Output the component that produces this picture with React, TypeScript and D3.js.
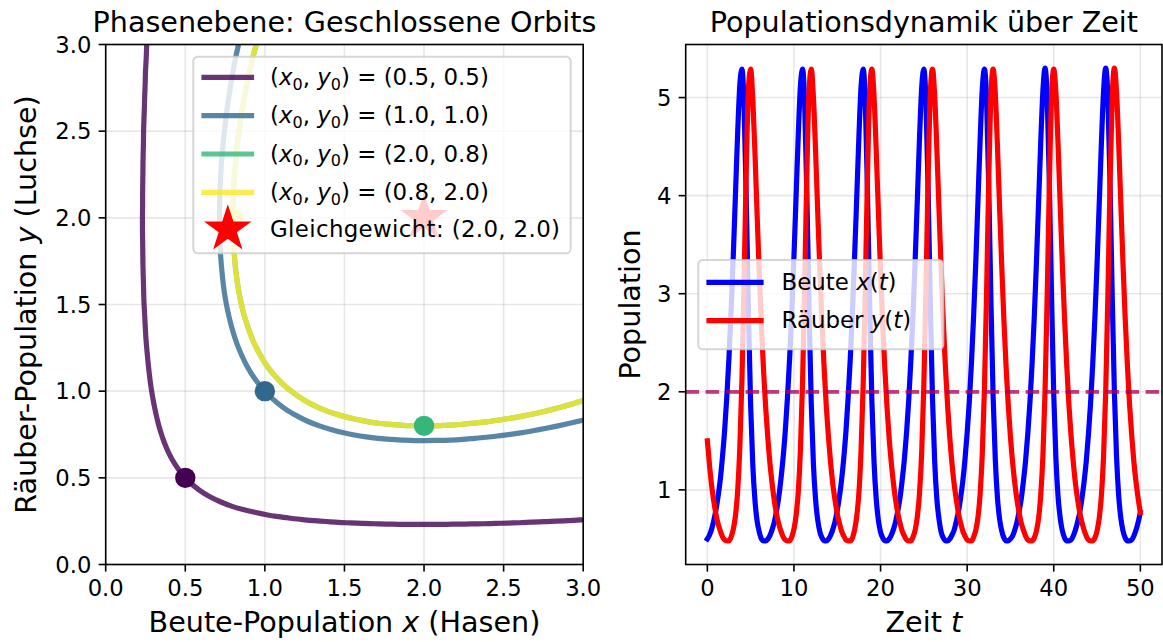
import React from 'react';
import * as d3 from 'd3';

// ---------- data ----------
const T_STEP = 0.25; // sampling step of the time series (t = 0 … 50)

const PREY = [
  0.50, 0.54, 0.60, 0.69, 0.80, 0.94, 1.11, 1.34, 1.61, 1.95,
  2.35, 2.84, 3.40, 4.02, 4.64, 5.13, 5.29, 4.88, 3.93, 2.79,
  1.86, 1.25, 0.89, 0.68, 0.57, 0.50, 0.48, 0.48, 0.50, 0.54,
  0.60,
  0.68, 0.79, 0.93, 1.11, 1.33, 1.60, 1.94, 2.34, 2.82, 3.38,
  4.00, 4.62, 5.12, 5.29, 4.90, 3.96, 2.82, 1.88, 1.26, 0.90,
  0.69, 0.57, 0.51, 0.48, 0.48, 0.50, 0.54, 0.60, 0.68, 0.79,
  0.93, 1.10,
  1.32, 1.59, 1.93, 2.33, 2.81, 3.37, 3.98, 4.60, 5.11, 5.29,
  4.92, 3.99, 2.85, 1.90, 1.28, 0.91, 0.69, 0.57, 0.51, 0.48,
  0.48, 0.50, 0.54, 0.60, 0.68, 0.79, 0.92, 1.10, 1.31, 1.58,
  1.91,
  2.32, 2.79, 3.35, 3.96, 4.59, 5.10, 5.29, 4.94, 4.02, 2.88,
  1.93, 1.29, 0.91, 0.70, 0.57, 0.51, 0.48, 0.48, 0.50, 0.54,
  0.59, 0.68, 0.78, 0.92, 1.09, 1.31, 1.58, 1.90, 2.30, 2.78,
  3.33, 3.95,
  4.57, 5.09, 5.29, 4.96, 4.06, 2.91, 1.95, 1.31, 0.92, 0.70,
  0.58, 0.51, 0.48, 0.48, 0.50, 0.53, 0.59, 0.67, 0.78, 0.91,
  1.09, 1.30, 1.57, 1.89, 2.29, 2.76, 3.32, 3.93, 4.55, 5.07,
  5.30,
  4.98, 4.09, 2.94, 1.97, 1.32, 0.93, 0.71, 0.58, 0.51, 0.48,
  0.48, 0.49, 0.53, 0.59, 0.67, 0.77, 0.91, 1.08, 1.29, 1.56,
  1.88, 2.28, 2.75, 3.30, 3.91, 4.53, 5.06, 5.30, 5.00, 4.12,
  2.98, 2.00,
  1.34, 0.94, 0.71, 0.58, 0.51, 0.48, 0.48, 0.49, 0.53, 0.59, 0.67, 0.77,
];

const PREDATOR = [
  1.50, 1.25, 1.04, 0.88, 0.75, 0.65, 0.58, 0.52, 0.49, 0.48,
  0.48, 0.52, 0.60, 0.74, 0.99, 1.43, 2.14, 3.17, 4.30, 5.10,
  5.29, 4.98, 4.43, 3.80, 3.20, 2.66, 2.20, 1.82, 1.51, 1.25,
  1.05,
  0.88, 0.75, 0.65, 0.58, 0.52, 0.49, 0.48, 0.48, 0.52, 0.60,
  0.74, 0.98, 1.41, 2.12, 3.14, 4.27, 5.08, 5.29, 5.00, 4.45,
  3.82, 3.22, 2.68, 2.22, 1.83, 1.52, 1.26, 1.05, 0.89, 0.76,
  0.66, 0.58,
  0.53, 0.49, 0.48, 0.48, 0.51, 0.59, 0.73, 0.97, 1.40, 2.09,
  3.11, 4.24, 5.07, 5.29, 5.01, 4.46, 3.84, 3.23, 2.69, 2.23,
  1.84, 1.52, 1.27, 1.06, 0.89, 0.76, 0.66, 0.58, 0.53, 0.49,
  0.48,
  0.48, 0.52, 0.59, 0.73, 0.97, 1.38, 2.07, 3.07, 4.21, 5.05,
  5.29, 5.02, 4.48, 3.86, 3.25, 2.71, 2.24, 1.85, 1.53, 1.27,
  1.06, 0.90, 0.76, 0.66, 0.58, 0.53, 0.49, 0.48, 0.48, 0.52,
  0.59, 0.72,
  0.96, 1.37, 2.04, 3.04, 4.18, 5.03, 5.29, 5.04, 4.50, 3.87,
  3.27, 2.72, 2.25, 1.86, 1.54, 1.28, 1.07, 0.90, 0.77, 0.66,
  0.59, 0.53, 0.49, 0.48, 0.48, 0.51, 0.58, 0.71, 0.95, 1.35,
  2.02,
  3.01, 4.15, 5.02, 5.29, 5.05, 4.52, 3.89, 3.28, 2.74, 2.27,
  1.87, 1.55, 1.29, 1.07, 0.91, 0.77, 0.67, 0.59, 0.53, 0.49,
  0.48, 0.48, 0.51, 0.58, 0.71, 0.94, 1.34, 2.00, 2.98, 4.12,
  5.00, 5.30,
  5.06, 4.53, 3.91, 3.30, 2.75, 2.28, 1.88, 1.56, 1.29, 1.08, 0.91, 0.77,
];

// visible parts of the closed orbits in the phase plane, [x, y]
const ORBIT_A: [number, number][] = [
  [0.264, 3.121], [0.260, 3.051], [0.257, 2.981], [0.254, 2.912], [0.250, 2.843], [0.248, 2.773], [0.245, 2.703],
  [0.243, 2.634], [0.240, 2.564], [0.238, 2.495], [0.237, 2.426], [0.235, 2.356], [0.234, 2.287], [0.233, 2.217],
  [0.232, 2.148], [0.232, 2.079], [0.231, 2.009], [0.231, 1.939], [0.232, 1.870], [0.233, 1.800], [0.234, 1.731],
  [0.236, 1.661], [0.238, 1.592], [0.240, 1.523], [0.244, 1.453], [0.248, 1.384], [0.252, 1.315], [0.258, 1.246],
  [0.265, 1.177], [0.273, 1.108], [0.282, 1.040], [0.294, 0.971], [0.308, 0.903], [0.324, 0.836], [0.344, 0.769],
  [0.368, 0.704], [0.398, 0.640], [0.434, 0.580], [0.478, 0.523], [0.529, 0.473], [0.588, 0.429], [0.652, 0.392],
  [0.720, 0.362], [0.790, 0.337], [0.863, 0.317], [0.936, 0.301], [1.010, 0.287], [1.085, 0.276], [1.160, 0.267],
  [1.235, 0.259], [1.311, 0.253], [1.386, 0.248], [1.462, 0.243], [1.538, 0.240], [1.613, 0.237], [1.689, 0.235],
  [1.765, 0.233], [1.840, 0.232], [1.916, 0.232], [1.992, 0.231], [2.068, 0.232], [2.144, 0.232], [2.221, 0.233],
  [2.296, 0.234], [2.373, 0.235], [2.448, 0.237], [2.524, 0.239], [2.599, 0.241], [2.676, 0.244], [2.752, 0.247],
  [2.828, 0.250], [2.904, 0.253], [2.980, 0.257], [3.056, 0.260], [3.120, 0.264],
];

const ORBIT_B: [number, number][] = [
  [0.865, 3.121], [0.847, 3.054], [0.831, 2.986], [0.815, 2.918], [0.801, 2.851], [0.788, 2.782], [0.776, 2.713],
  [0.765, 2.645], [0.755, 2.576], [0.747, 2.507], [0.739, 2.438], [0.732, 2.369], [0.726, 2.300], [0.722, 2.230],
  [0.718, 2.161], [0.716, 2.091], [0.715, 2.022], [0.715, 1.952], [0.717, 1.883], [0.720, 1.814], [0.725, 1.745],
  [0.732, 1.676], [0.740, 1.607], [0.751, 1.538], [0.765, 1.470], [0.782, 1.403], [0.802, 1.336], [0.826, 1.270],
  [0.855, 1.206], [0.888, 1.144], [0.927, 1.085], [0.972, 1.030], [1.023, 0.978], [1.079, 0.932], [1.139, 0.891],
  [1.204, 0.856], [1.272, 0.825], [1.343, 0.800], [1.415, 0.779], [1.488, 0.761], [1.562, 0.747], [1.637, 0.736],
  [1.712, 0.728], [1.788, 0.722], [1.863, 0.718], [1.939, 0.715], [2.014, 0.715], [2.090, 0.716], [2.166, 0.718],
  [2.241, 0.722], [2.317, 0.728], [2.392, 0.734], [2.467, 0.742], [2.543, 0.751], [2.618, 0.761], [2.693, 0.773],
  [2.768, 0.786], [2.842, 0.800], [2.916, 0.815], [2.990, 0.831], [3.064, 0.850], [3.120, 0.865],
];

// (2.0, 0.8) and (0.8, 2.0) lie on the same closed orbit
const ORBIT_C: [number, number][] = [
  [0.985, 3.120], [0.962, 3.053], [0.942, 2.987], [0.923, 2.920], [0.906, 2.853], [0.890, 2.785], [0.875, 2.717],
  [0.862, 2.648], [0.850, 2.580], [0.839, 2.511], [0.829, 2.443], [0.821, 2.374], [0.814, 2.305], [0.809, 2.236],
  [0.804, 2.167], [0.802, 2.098], [0.800, 2.029], [0.800, 1.959], [0.802, 1.890], [0.806, 1.821], [0.811, 1.752],
  [0.819, 1.683], [0.829, 1.615], [0.842, 1.547], [0.858, 1.479], [0.878, 1.412], [0.902, 1.347], [0.930, 1.282],
  [0.963, 1.221], [1.002, 1.161], [1.047, 1.105], [1.098, 1.054], [1.154, 1.008], [1.215, 0.967], [1.280, 0.931],
  [1.348, 0.901], [1.418, 0.876], [1.490, 0.856], [1.564, 0.839], [1.638, 0.826], [1.713, 0.815], [1.789, 0.808],
  [1.864, 0.803], [1.940, 0.801], [2.016, 0.800], [2.092, 0.801], [2.168, 0.804], [2.243, 0.809], [2.319, 0.816],
  [2.394, 0.823], [2.468, 0.833], [2.543, 0.844], [2.618, 0.856], [2.692, 0.870], [2.767, 0.886], [2.840, 0.903],
  [2.913, 0.921], [2.986, 0.942], [3.058, 0.964], [3.120, 0.985],
];

const INITIAL_X = [0.5, 1.0, 2.0, 0.8];
const INITIAL_Y = [0.5, 1.0, 0.8, 2.0];
const ORBIT_COLORS = ['#440154', '#31688e', '#35b779', '#fde725'];
const EQUILIBRIUM: [number, number] = [2.0, 2.0];

const PHASE_TICKS = [0, 0.5, 1.0, 1.5, 2.0, 2.5, 3.0];
const TIME_TICKS = [0, 10, 20, 30, 40, 50];
const POP_TICKS = [1, 2, 3, 4, 5];

// ---------- layout ----------
const W = 1163, H = 642;
const LA = { x0: 105.7, x1: 583.2, y0: 44.5, y1: 564.5 };
const RA = { x0: 685.7, x1: 1162, y0: 44.5, y1: 564.5 };
const FONT = 'DejaVu Sans';
const FS_TICK = 22.7, FS_LABEL = 28.6, FS_LEG = 22.9;
const SPINE = 1.6, TICK_LEN = 7.1;

function starPath(cx: number, cy: number, R: number) {
  const r = R * 0.381966;
  const pts: string[] = [];
  for (let i = 0; i < 10; i++) {
    const ang = -Math.PI / 2 + i * Math.PI / 5;
    const rad = i % 2 === 0 ? R : r;
    pts.push(`${(cx + rad * Math.cos(ang)).toFixed(2)},${(cy + rad * Math.sin(ang)).toFixed(2)}`);
  }
  return 'M' + pts.join('L') + 'Z';
}

function InitLabel({ x, y, x0, y0 }: { x: number; y: number; x0: number; y0: number }) {
  const sub = 16, dy = 4.6;
  return (
    <text x={x} y={y} fontSize={FS_LEG} fill="#000">
      {'('}
      <tspan fontStyle="italic">x</tspan>
      <tspan fontSize={sub} dy={dy}>0</tspan>
      <tspan dy={-dy}>{', '}</tspan>
      <tspan fontStyle="italic">y</tspan>
      <tspan fontSize={sub} dy={dy}>0</tspan>
      <tspan dy={-dy}>{') = (' + x0.toFixed(1) + ', ' + y0.toFixed(1) + ')'}</tspan>
    </text>
  );
}

export default function App() {
  const xL = d3.scaleLinear().domain([0, 3]).range([LA.x0, LA.x1]);
  const yL = d3.scaleLinear().domain([0, 3]).range([LA.y1, LA.y0]);

  const times = PREY.map((_, i) => i * T_STEP);
  const allPop = PREY.concat(PREDATOR);
  const pMin = d3.min(allPop)!, pMax = d3.max(allPop)!;
  const pad = (pMax - pMin) * 0.05;
  const tMin = d3.min(times)!, tMax = d3.max(times)!;
  const tPad = (tMax - tMin) * 0.05;
  const xR = d3.scaleLinear().domain([tMin - tPad, tMax + tPad]).range([RA.x0, RA.x1]);
  const yR = d3.scaleLinear().domain([pMin - pad, pMax + pad]).range([RA.y1, RA.y0]);

  const orbitLine = d3.line<[number, number]>().x(d => xL(d[0])).y(d => yL(d[1])).curve(d3.curveCatmullRom.alpha(0.5));
  const orbits = [ORBIT_A, ORBIT_B, ORBIT_C, ORBIT_C];

  const tsLine = d3.line<number>().x((_, i) => xR(times[i])).y(d => yR(d)).curve(d3.curveMonotoneX);

  const gridColor = '#b0b0b0';
  const legL = { x: 193.3, y: 56.7, w: 377.4, h: 196.6 };
  const legRows = [77.3, 115.7, 154.0, 192.3, 229.3];
  const legR = { x: 698.3, y: 260, w: 245, h: 89.3 };
  const legRRows = [282.3, 320.7];

  return (
    <svg width={W} height={H} style={{ position: 'absolute', left: 0, top: 0, background: '#fff' }} fontFamily={FONT}>
      <defs>
        <clipPath id="clipL"><rect x={LA.x0} y={LA.y0} width={LA.x1 - LA.x0} height={LA.y1 - LA.y0} /></clipPath>
        <clipPath id="clipR"><rect x={RA.x0} y={RA.y0} width={RA.x1 - RA.x0} height={RA.y1 - RA.y0} /></clipPath>
      </defs>
      <rect x={0} y={0} width={W} height={H} fill="#fff" />

      {/* ================= LEFT: phase plane ================= */}
      <g>
        {PHASE_TICKS.map(v => (
          <line key={'gvx' + v} x1={xL(v)} x2={xL(v)} y1={LA.y0} y2={LA.y1} stroke={gridColor} strokeOpacity={0.3} strokeWidth={1.6} />
        ))}
        {PHASE_TICKS.map(v => (
          <line key={'gvy' + v} x1={LA.x0} x2={LA.x1} y1={yL(v)} y2={yL(v)} stroke={gridColor} strokeOpacity={0.3} strokeWidth={1.6} />
        ))}
        <g clipPath="url(#clipL)">
          {orbits.map((o, i) => (
            <path key={'orb' + i} d={orbitLine(o)!} fill="none" stroke={ORBIT_COLORS[i]} strokeOpacity={0.8} strokeWidth={5.2} strokeLinejoin="round" />
          ))}
        </g>
        {INITIAL_X.map((x0, i) => (
          <circle key={'ic' + i} cx={xL(x0)} cy={yL(INITIAL_Y[i])} r={10.2} fill={ORBIT_COLORS[i]} />
        ))}
        <path d={starPath(xL(EQUILIBRIUM[0]), yL(EQUILIBRIUM[1]), 25)} fill="#ff0000" />

        {/* spines */}
        <rect x={LA.x0} y={LA.y0} width={LA.x1 - LA.x0} height={LA.y1 - LA.y0} fill="none" stroke="#000" strokeWidth={SPINE} />
        {PHASE_TICKS.map(v => (
          <g key={'tx' + v}>
            <line x1={xL(v)} x2={xL(v)} y1={LA.y1} y2={LA.y1 + TICK_LEN} stroke="#000" strokeWidth={SPINE} />
            <text x={xL(v)} y={595.8} fontSize={FS_TICK} textAnchor="middle">{v.toFixed(1)}</text>
          </g>
        ))}
        {PHASE_TICKS.map(v => (
          <g key={'ty' + v}>
            <line x1={LA.x0 - TICK_LEN} x2={LA.x0} y1={yL(v)} y2={yL(v)} stroke="#000" strokeWidth={SPINE} />
            <text x={LA.x0 - 14.3} y={yL(v) + 8.2} fontSize={FS_TICK} textAnchor="end">{v.toFixed(1)}</text>
          </g>
        ))}
        <text x={(LA.x0 + LA.x1) / 2} y={632} fontSize={FS_LABEL} textAnchor="middle">
          {'Beute-Population '}<tspan fontStyle="italic">x</tspan>{' (Hasen)'}
        </text>
        <text transform={`translate(35.6,${(LA.y0 + LA.y1) / 2}) rotate(-90)`} fontSize={FS_LABEL} textAnchor="middle">
          {'Räuber-Population '}<tspan fontStyle="italic">y</tspan>{' (Luchse)'}
        </text>
        <text x={(LA.x0 + LA.x1) / 2} y={32} fontSize={FS_LABEL} textAnchor="middle">Phasenebene: Geschlossene Orbits</text>

        {/* legend */}
        <rect x={legL.x} y={legL.y} width={legL.w} height={legL.h} rx={4.5} fill="#fff" fillOpacity={0.8} stroke="#cccccc" strokeOpacity={0.8} strokeWidth={2} />
        {INITIAL_X.map((x0, i) => (
          <g key={'lg' + i}>
            <line x1={204} x2={251.5} y1={legRows[i]} y2={legRows[i]} stroke={ORBIT_COLORS[i]} strokeOpacity={0.8} strokeWidth={5.2} strokeLinecap="square" />
            <InitLabel x={270} y={legRows[i] + 7.6} x0={x0} y0={INITIAL_Y[i]} />
          </g>
        ))}
        <path d={starPath(227.8, legRows[4], 25)} fill="#ff0000" />
        <text x={270} y={legRows[4] + 7.6} fontSize={FS_LEG} letterSpacing={0.35}>
          {`Gleichgewicht: (${EQUILIBRIUM[0].toFixed(1)}, ${EQUILIBRIUM[1].toFixed(1)})`}
        </text>
      </g>

      {/* ================= RIGHT: time series ================= */}
      <g>
        {TIME_TICKS.map(v => (
          <line key={'rgx' + v} x1={xR(v)} x2={xR(v)} y1={RA.y0} y2={RA.y1} stroke={gridColor} strokeOpacity={0.3} strokeWidth={1.6} />
        ))}
        {POP_TICKS.map(v => (
          <line key={'rgy' + v} x1={RA.x0} x2={RA.x1} y1={yR(v)} y2={yR(v)} stroke={gridColor} strokeOpacity={0.3} strokeWidth={1.6} />
        ))}
        <g clipPath="url(#clipR)">
          <path d={tsLine(PREY)!} fill="none" stroke="#0000ff" strokeWidth={5.2} strokeLinejoin="round" strokeLinecap="square" />
          <path d={tsLine(PREDATOR)!} fill="none" stroke="#ff0000" strokeWidth={5.2} strokeLinejoin="round" strokeLinecap="square" />
          <line x1={RA.x0} x2={RA.x1} y1={yR(EQUILIBRIUM[0])} y2={yR(EQUILIBRIUM[0])} stroke="#0000ff" strokeOpacity={0.5} strokeWidth={3.8} strokeDasharray="13.4,6.6" />
          <line x1={RA.x0} x2={RA.x1} y1={yR(EQUILIBRIUM[1])} y2={yR(EQUILIBRIUM[1])} stroke="#ff0000" strokeOpacity={0.5} strokeWidth={3.8} strokeDasharray="13.4,6.6" />
        </g>

        <rect x={RA.x0} y={RA.y0} width={RA.x1 - RA.x0} height={RA.y1 - RA.y0} fill="none" stroke="#000" strokeWidth={SPINE} />
        {TIME_TICKS.map(v => (
          <g key={'rtx' + v}>
            <line x1={xR(v)} x2={xR(v)} y1={RA.y1} y2={RA.y1 + TICK_LEN} stroke="#000" strokeWidth={SPINE} />
            <text x={xR(v)} y={595.8} fontSize={FS_TICK} textAnchor="middle">{String(v)}</text>
          </g>
        ))}
        {POP_TICKS.map(v => (
          <g key={'rty' + v}>
            <line x1={RA.x0 - TICK_LEN} x2={RA.x0} y1={yR(v)} y2={yR(v)} stroke="#000" strokeWidth={SPINE} />
            <text x={RA.x0 - 14.3} y={yR(v) + 8.2} fontSize={FS_TICK} textAnchor="end">{String(v)}</text>
          </g>
        ))}
        <text x={(RA.x0 + RA.x1) / 2} y={632} fontSize={FS_LABEL} textAnchor="middle">
          {'Zeit '}<tspan fontStyle="italic">t</tspan>
        </text>
        <text transform={`translate(640,${(RA.y0 + RA.y1) / 2}) rotate(-90)`} fontSize={FS_LABEL} textAnchor="middle">Population</text>
        <text x={(RA.x0 + RA.x1) / 2} y={32} fontSize={FS_LABEL} textAnchor="middle">Populationsdynamik über Zeit</text>

        {/* legend */}
        <rect x={legR.x} y={legR.y} width={legR.w} height={legR.h} rx={4.5} fill="#fff" fillOpacity={0.8} stroke="#cccccc" strokeOpacity={0.8} strokeWidth={2} />
        <line x1={709} x2={761} y1={legRRows[0]} y2={legRRows[0]} stroke="#0000ff" strokeWidth={5.2} strokeLinecap="square" />
        <text x={781.5} y={legRRows[0] + 7.6} fontSize={FS_LEG}>
          {'Beute '}<tspan fontStyle="italic">x</tspan>{'('}<tspan fontStyle="italic">t</tspan>{')'}
        </text>
        <line x1={709} x2={761} y1={legRRows[1]} y2={legRRows[1]} stroke="#ff0000" strokeWidth={5.2} strokeLinecap="square" />
        <text x={781.5} y={legRRows[1] + 7.6} fontSize={FS_LEG}>
          {'Räuber '}<tspan fontStyle="italic">y</tspan>{'('}<tspan fontStyle="italic">t</tspan>{')'}
        </text>
      </g>
    </svg>
  );
}
